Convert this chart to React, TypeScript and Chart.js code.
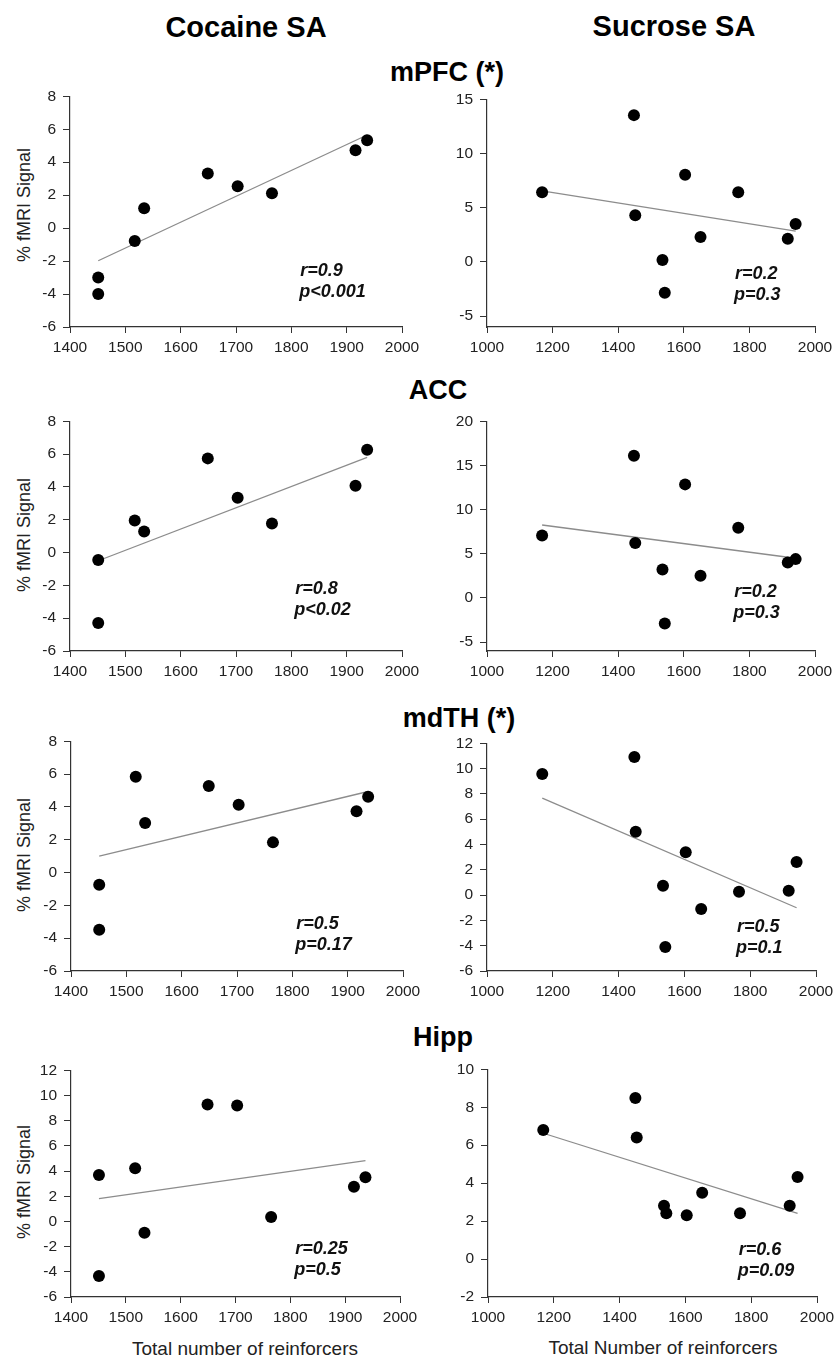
import React, { useEffect, useRef } from "react";
import { Chart, registerables } from "chart.js";

Chart.register(...registerables);

const FONT = "'Liberation Sans', Arial, Helvetica, sans-serif";

// ---- data ----
const cocaineX = [1451, 1451, 1517, 1534, 1649, 1703, 1765, 1916, 1937];
const sucroseX = [1168, 1448, 1452, 1535, 1542, 1604, 1651, 1766, 1917, 1941];

const cocMPFC = [-3.0, -4.0, -0.78, 1.21, 3.32, 2.54, 2.12, 4.73, 5.33];
const cocACC = [-0.45, -4.29, 1.95, 1.28, 5.74, 3.34, 1.77, 4.07, 6.27];
const cocMDTH = [-0.74, -3.48, 5.84, 3.02, 5.28, 4.13, 1.84, 3.73, 4.62];
const cocHIPP = [3.69, -4.33, 4.22, -0.9, 9.28, 9.2, 0.35, 2.75, 3.51];

const sucMPFC = [6.43, 13.54, 4.3, 0.17, -2.84, 8.04, 2.3, 6.43, 2.14, 3.51];
const sucACC = [7.08, 16.11, 6.22, 3.23, -2.89, 12.86, 2.51, 7.95, 4.03, 4.4];
const sucMDTH = [9.58, 10.91, 5.0, 0.74, -4.1, 3.39, -1.09, 0.27, 0.35, 2.61];
const sucHIPP = [6.8, 8.49, 6.4, 2.81, 2.41, 2.31, 3.5, 2.41, 2.81, 4.32];

// regression line end points
const cocTrendX = [1451, 1937];
const sucTrendX = [1168, 1941];
const cocMPFCtrend = [-1.98, 5.65];
const cocACCtrend = [-0.5, 5.8];
const cocMDTHtrend = [1.0, 4.94];
const cocHIPPtrend = [1.81, 4.82];
const sucMPFCtrend = [6.55, 2.84];
const sucACCtrend = [8.26, 4.5];
const sucMDTHtrend = [7.66, -1.0];
const sucHIPPtrend = [6.63, 2.41];

const stats = [
  ["r=0.9", "p<0.001"],
  ["r=0.2", "p=0.3"],
  ["r=0.8", "p<0.02"],
  ["r=0.2", "p=0.3"],
  ["r=0.5", "p=0.17"],
  ["r=0.5", "p=0.1"],
  ["r=0.25", "p=0.5"],
  ["r=0.6", "p=0.09"],
];

const YW = 60;
const PT = 14;
const PR = 26;
const XH = 40;

type PanelProps = {
  left: number;
  top: number;
  right: number;
  bottom: number;
  xs: number[];
  ys: number[];
  tx: number[];
  ty: number[];
  xMin: number;
  xMax: number;
  xStep: number;
  yMin: number;
  yMax: number;
  yStep: number;
  stat: string[];
  statX: number;
  statY: number;
};

function Panel(p: PanelProps) {
  const ref = useRef<HTMLCanvasElement | null>(null);
  const w = p.right - p.left + YW + PR;
  const h = p.bottom - p.top + PT + XH;
  useEffect(() => {
    if (!ref.current) return;
    const statPlugin = {
      id: "statText",
      afterDatasetsDraw(chart: any) {
        const ctx = chart.ctx;
        const xs = chart.scales.x;
        const ys = chart.scales.y;
        const px = xs.getPixelForValue(p.statX);
        const py = ys.getPixelForValue(p.statY);
        ctx.save();
        ctx.fillStyle = "#111";
        ctx.font = `italic bold 18px ${FONT}`;
        ctx.textBaseline = "alphabetic";
        ctx.textAlign = "left";
        ctx.fillText(p.stat[0], px, py);
        ctx.fillText(p.stat[1], px - 1, py + 21);
        ctx.restore();
      },
    };
    const stepTicks = (step: number) => (axis: any) => {
      const out: any[] = [];
      const start = Math.ceil(axis.min / step - 1e-9);
      const end = Math.floor(axis.max / step + 1e-9);
      for (let k = start; k <= end; k++) out.push({ value: k * step });
      axis.ticks = out;
    };
    const fmt = (v: any) => String(v);
    const chart = new Chart(ref.current, {
      type: "scatter",
      data: {
        datasets: [
          {
            type: "scatter",
            data: p.xs.map((x, i) => ({ x, y: p.ys[i] })),
            pointRadius: 6,
            pointHoverRadius: 6,
            backgroundColor: "#000",
            borderWidth: 0,
            order: 0,
          } as any,
          {
            type: "line",
            data: p.tx.map((x, i) => ({ x, y: p.ty[i] })),
            borderColor: "#8c8c8c",
            borderWidth: 1.3,
            pointRadius: 0,
            showLine: true,
            fill: false,
            order: 1,
          } as any,
        ],
      },
      options: {
        animation: false,
        responsive: false,
        devicePixelRatio: 1,
        layout: { padding: { top: PT, right: PR, left: 0, bottom: 0 } },
        plugins: { legend: { display: false }, tooltip: { enabled: false } },
        events: [],
        scales: {
          x: {
            type: "linear",
            min: p.xMin,
            max: p.xMax,
            afterBuildTicks: stepTicks(p.xStep),
            ticks: {
              callback: fmt,
              color: "#222",
              font: { family: FONT, size: 15.5 },
              padding: 5,
              maxRotation: 0,
              autoSkip: false,
            },
            grid: {
              display: true,
              drawOnChartArea: false,
              drawTicks: true,
              tickLength: 6,
              color: "#333",
              lineWidth: 1,
            },
            border: { display: true, color: "#333", width: 1.2 },
            afterFit: (s: any) => {
              s.height = XH;
            },
          },
          y: {
            type: "linear",
            min: p.yMin,
            max: p.yMax,
            afterBuildTicks: stepTicks(p.yStep),
            ticks: {
              callback: fmt,
              color: "#222",
              font: { family: FONT, size: 15.5 },
              padding: 7,
              autoSkip: false,
            },
            grid: {
              display: true,
              drawOnChartArea: false,
              drawTicks: true,
              tickLength: 7,
              color: "#333",
              lineWidth: 1,
            },
            border: { display: true, color: "#333", width: 1.2 },
            afterFit: (s: any) => {
              s.width = YW;
            },
          },
        },
      },
      plugins: [statPlugin],
    } as any);
    return () => chart.destroy();
  }, []);
  return (
    <canvas
      ref={ref}
      width={Math.round(w)}
      height={Math.round(h)}
      style={{
        position: "absolute",
        left: Math.round(p.left - YW),
        top: Math.round(p.top - PT),
        width: Math.round(w),
        height: Math.round(h),
      }}
    />
  );
}

function Text(props: {
  x: number;
  y: number;
  text: string;
  size: number;
  bold?: boolean;
  rotate?: boolean;
}) {
  return (
    <div
      style={{
        position: "absolute",
        left: props.x,
        top: props.y,
        transform: `translate(-50%, -50%)${props.rotate ? " rotate(-90deg)" : ""}`,
        fontFamily: FONT,
        fontSize: props.size,
        fontWeight: props.bold ? "bold" : "normal",
        lineHeight: 1,
        whiteSpace: "nowrap",
        color: props.bold ? "#000" : "#222",
      }}
    >
      {props.text}
    </div>
  );
}

const LEFT_L = 70;
const LEFT_R = 402;
const RIGHT_L = 487;
const RIGHT_R = 815;

export default function App() {
  const rows = [
    { top: 94, bottom: 327, topR: 97 },
    { top: 419, bottom: 651, topR: 419 },
    { top: 739, bottom: 971, topR: 741 },
    { top: 1068, bottom: 1297, topR: 1067 },
  ];
  return (
    <div
      style={{
        position: "absolute",
        left: 0,
        top: 0,
        width: 837,
        height: 1357,
        background: "#fff",
        overflow: "hidden",
      }}
    >
      <Text x={246} y={27} text="Cocaine SA" size={29} bold />
      <Text x={674} y={26} text="Sucrose SA" size={29} bold />
      <Text x={447} y={72} text="mPFC (*)" size={27} bold />
      <Text x={438} y={390} text="ACC" size={27} bold />
      <Text x={459} y={718} text="mdTH (*)" size={27} bold />
      <Text x={443} y={1037} text="Hipp" size={27} bold />

      <Text x={24} y={205} text="% fMRI Signal" size={18} rotate />
      <Text x={24} y={535} text="% fMRI Signal" size={18} rotate />
      <Text x={24} y={855} text="% fMRI Signal" size={18} rotate />
      <Text x={24} y={1182} text="% fMRI Signal" size={18} rotate />

      <Text x={245} y={1348} text="Total number of reinforcers" size={19} />
      <Text x={663} y={1347} text="Total Number of reinforcers" size={19} />

      <Panel left={LEFT_L} right={LEFT_R} top={rows[0].top} bottom={rows[0].bottom}
        xs={cocaineX} ys={cocMPFC} tx={cocTrendX} ty={cocMPFCtrend}
        xMin={1400} xMax={2000} xStep={100} yMin={-6} yMax={8} yStep={2}
        stat={stats[0]} statX={1816} statY={-2.9} />
      <Panel left={RIGHT_L} right={RIGHT_R} top={rows[0].topR} bottom={rows[0].bottom}
        xs={sucroseX} ys={sucMPFC} tx={sucTrendX} ty={sucMPFCtrend}
        xMin={1000} xMax={2000} xStep={200} yMin={-6} yMax={15} yStep={5}
        stat={stats[1]} statX={1756} statY={-1.6} />

      <Panel left={LEFT_L} right={LEFT_R} top={rows[1].top} bottom={rows[1].bottom}
        xs={cocaineX} ys={cocACC} tx={cocTrendX} ty={cocACCtrend}
        xMin={1400} xMax={2000} xStep={100} yMin={-6} yMax={8} yStep={2}
        stat={stats[2]} statX={1807} statY={-2.53} />
      <Panel left={RIGHT_L} right={RIGHT_R} top={rows[1].topR} bottom={rows[1].bottom}
        xs={sucroseX} ys={sucACC} tx={sucTrendX} ty={sucACCtrend}
        xMin={1000} xMax={2000} xStep={200} yMin={-6} yMax={20} yStep={5}
        stat={stats[3]} statX={1754} statY={0.1} />

      <Panel left={LEFT_L + 1} right={LEFT_R + 1} top={rows[2].top} bottom={rows[2].bottom}
        xs={cocaineX} ys={cocMDTH} tx={cocTrendX} ty={cocMDTHtrend}
        xMin={1400} xMax={2000} xStep={100} yMin={-6} yMax={8} yStep={2}
        stat={stats[4]} statX={1807} statY={-3.42} />
      <Panel left={RIGHT_L} right={RIGHT_R + 1} top={rows[2].topR} bottom={rows[2].bottom}
        xs={sucroseX} ys={sucMDTH} tx={sucTrendX} ty={sucMDTHtrend}
        xMin={1000} xMax={2000} xStep={200} yMin={-6} yMax={12} yStep={2}
        stat={stats[5]} statX={1760} statY={-2.93} />

      <Panel left={LEFT_L + 1} right={LEFT_R - 2} top={rows[3].top} bottom={rows[3].bottom}
        xs={cocaineX} ys={cocHIPP} tx={cocTrendX} ty={cocHIPPtrend}
        xMin={1400} xMax={2000} xStep={100} yMin={-6} yMax={12} yStep={2}
        stat={stats[6]} statX={1809} statY={-2.55} />
      <Panel left={RIGHT_L + 1} right={RIGHT_R + 2} top={rows[3].topR} bottom={rows[3].bottom}
        xs={sucroseX} ys={sucHIPP} tx={sucTrendX} ty={sucHIPPtrend}
        xMin={1000} xMax={2000} xStep={200} yMin={-2} yMax={10} yStep={2}
        stat={stats[7]} statX={1762} statY={0.2} />
    </div>
  );
}
